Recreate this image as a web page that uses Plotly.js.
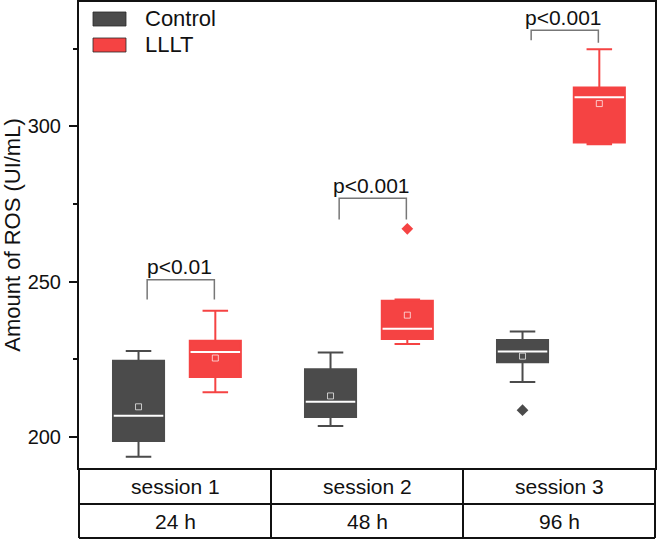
<!DOCTYPE html>
<html>
<head>
<meta charset="utf-8">
<script src="https://cdn.plot.ly/plotly-3.0.1.min.js"></script>
<style>
  html, body { margin: 0; padding: 0; background: #ffffff; }
  #chart { width: 662px; height: 543px; }
</style>
</head>
<body>
<div id="chart"></div>
<script>
// ROS levels per session: box statistics for each group
const sessions = ['session 1', 'session 2', 'session 3'];
const hours = ['24 h', '48 h', '96 h'];
const groupNames = ['Control', 'LLLT'];

const controlLower  = [193.6, 203.5, 217.7];
const controlQ1     = [198.7, 206.4, 224.0];
const controlMedian = [206.8, 211.3, 227.5];
const controlQ3     = [224.5, 221.8, 231.2];
const controlUpper  = [227.7, 227.2, 233.9];
const controlMean   = [209.7, 213.2, 226.0];
const controlOutliers = [[], [], [208.6]];

const llltLower  = [214.4, 229.9, 294.2];
const llltQ1     = [219.3, 231.5, 294.8];
const llltMedian = [227.3, 234.8, 309.3];
const llltQ3     = [231.0, 243.8, 312.5];
const llltUpper  = [240.6, 244.2, 324.8];
const llltMean   = [225.4, 239.2, 307.3];
const llltOutliers = [[], [267.0], []];

// significance brackets between the two groups of each session
const pLabels = ['p<0.01', 'p<0.001', 'p<0.001'];
const bracketTop = [250.6, 276.8, 330.9];
const bracketLeftEnd = [244.2, 270.0, 327.7];
const bracketRightEnd = [244.2, 270.0, 326.9];

// drawing constants
const sessionPos = sessions.map((_, i) => i + 1);
const groupOffset = [-0.19, 0.21];
const boxWidth = 0.266;
const colors = ['#4b4b4b', '#f54343'];
const font = 'Liberation Sans, Arial, sans-serif';

const groups = [
  {lower: controlLower, q1: controlQ1, median: controlMedian, q3: controlQ3, upper: controlUpper, mean: controlMean, outliers: controlOutliers},
  {lower: llltLower, q1: llltQ1, median: llltMedian, q3: llltQ3, upper: llltUpper, mean: llltMean, outliers: llltOutliers}
];

const traces = [];
groups.forEach((g, gi) => {
  const xs = sessionPos.map(p => p + groupOffset[gi]);
  traces.push({
    type: 'box', name: groupNames[gi], x: xs,
    q1: g.q1, median: g.median, q3: g.q3,
    lowerfence: g.lower, upperfence: g.upper,
    width: boxWidth, whiskerwidth: 0.5,
    fillcolor: colors[gi], line: {color: colors[gi], width: 2},
    boxpoints: false, hoverinfo: 'skip'
  });
  // white median bars
  const mx = [], my = [];
  xs.forEach((x, i) => { mx.push(x - boxWidth / 2 + 0.004, x + boxWidth / 2 - 0.004, null); my.push(g.median[i], g.median[i], null); });
  traces.push({type: 'scatter', mode: 'lines', x: mx, y: my, line: {color: '#ffffff', width: 2}, hoverinfo: 'skip'});
  // mean markers
  traces.push({type: 'scatter', mode: 'markers', x: xs, y: g.mean,
    marker: {symbol: 'square-open', size: 6, color: 'rgba(255,255,255,0.7)', line: {width: 1}}, hoverinfo: 'skip'});
  // outliers
  const ox = [], oy = [];
  g.outliers.forEach((arr, i) => arr.forEach(v => { ox.push(xs[i]); oy.push(v); }));
  traces.push({type: 'scatter', mode: 'markers', x: ox, y: oy,
    marker: {symbol: 'diamond', size: 9, color: colors[gi]}, hoverinfo: 'skip'});
});

// brackets
const bx = [], by = [];
sessionPos.forEach((p, i) => {
  const l = p - 0.145, r = p + 0.205;
  bx.push(l, l, r, r, null);
  by.push(bracketLeftEnd[i], bracketTop[i], bracketTop[i], bracketRightEnd[i], null);
});
traces.push({type: 'scatter', mode: 'lines', x: bx, y: by, line: {color: '#777777', width: 1.5}, hoverinfo: 'skip'});

const tableBottom = -70 / 466;
const rowLine = -36 / 466;
const lineStyle = {color: '#111111', width: 2};

const shapes = [
  {type: 'line', xref: 'paper', yref: 'paper', x0: 0, x1: 0, y0: 0, y1: tableBottom, line: lineStyle},
  {type: 'line', xref: 'paper', yref: 'paper', x0: 1, x1: 1, y0: 0, y1: tableBottom, line: lineStyle},
  {type: 'line', xref: 'paper', yref: 'paper', x0: 0, x1: 1, y0: tableBottom, y1: tableBottom, line: lineStyle},
  {type: 'line', xref: 'paper', yref: 'paper', x0: 0, x1: 1, y0: rowLine, y1: rowLine, line: lineStyle}
];
sessionPos.slice(0, -1).forEach(p => {
  shapes.push({type: 'line', xref: 'x', yref: 'paper', x0: p + 0.5, x1: p + 0.5, y0: 0, y1: tableBottom, line: lineStyle});
});

const annotations = [];
sessions.forEach((s, i) => {
  annotations.push({xref: 'x', yref: 'paper', x: sessionPos[i], y: -18 / 466, text: s, showarrow: false,
    xanchor: 'center', yanchor: 'middle', font: {size: 21, family: font, color: '#111'}});
  annotations.push({xref: 'x', yref: 'paper', x: sessionPos[i], y: -53 / 466, text: hours[i], showarrow: false,
    xanchor: 'center', yanchor: 'middle', font: {size: 21, family: font, color: '#111'}});
  annotations.push({xref: 'x', yref: 'y', x: sessionPos[i] + 0.025, y: bracketTop[i], yshift: 13, text: pLabels[i], showarrow: false,
    xanchor: 'center', yanchor: 'middle', font: {size: 21, family: font, color: '#111'}});
});

// legend swatches and labels
const legendTops = [10, 36];
groupNames.forEach((n, i) => {
  const t = legendTops[i];
  shapes.push({type: 'rect', xref: 'paper', yref: 'paper', x0: 14 / 576, x1: 47 / 576,
    y0: 1 - t / 466, y1: 1 - (t + 14) / 466, fillcolor: colors[i], line: {color: 'rgba(40,40,40,0.8)', width: 1}});
  annotations.push({xref: 'paper', yref: 'paper', x: 64 / 576, y: 1 - (t + 7) / 466, text: n, showarrow: false,
    xanchor: 'left', yanchor: 'middle', font: {size: 22, family: font, color: '#111'}});
});

const layout = {
  width: 662, height: 543,
  margin: {l: 79, r: 7, t: 2, b: 75},
  paper_bgcolor: '#ffffff', plot_bgcolor: '#ffffff',
  showlegend: false,
  font: {family: font, color: '#111'},
  xaxis: {range: [0.5, 3.5], showticklabels: false, ticks: '', showgrid: false, zeroline: false,
    showline: true, linecolor: '#111', linewidth: 2, mirror: true, fixedrange: true},
  yaxis: {range: [190, 340], tickvals: [200, 250, 300], ticks: 'outside', ticklen: 8, tickwidth: 2,
    tickcolor: '#111', showline: true, linecolor: '#111', linewidth: 2, mirror: true,
    showgrid: false, zeroline: false, tickfont: {size: 20, family: font, color: '#111'},
    ticklabelstandoff: 4,
    minor: {tickvals: [225, 275, 325], ticks: 'outside', ticklen: 4, tickwidth: 2, tickcolor: '#111'},
    title: {text: 'Amount of ROS (UI/mL)', font: {size: 22, family: font, color: '#111'}, standoff: 7},
    fixedrange: true},
  shapes: shapes,
  annotations: annotations
};

Plotly.newPlot('chart', traces, layout, {displayModeBar: false, staticPlot: true});
</script>
</body>
</html>
